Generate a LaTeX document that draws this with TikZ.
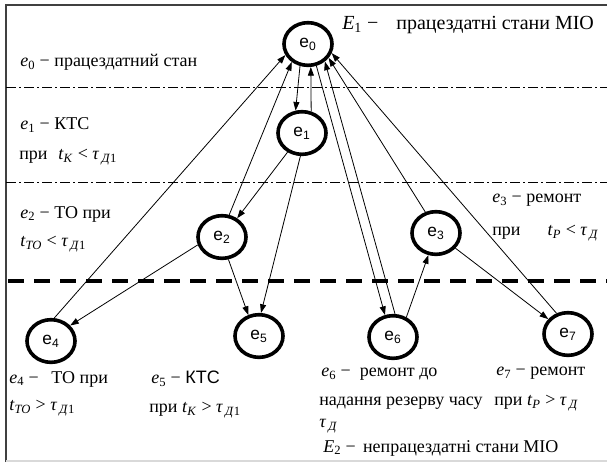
\documentclass[tikz,border=0pt,12pt]{standalone}
\usepackage{fontspec}
\setmainfont{Liberation Serif}
\setsansfont{Liberation Sans}
\usepackage{tikz}
\usetikzlibrary{arrows.meta,shapes.geometric}
\newcommand{\ei}[1]{\textit{e}\textsubscript{#1}}
\newcommand{\ti}[1]{\textit{t}\textsubscript{\textit{#1}}}
\newcommand{\taui}[1]{\textit{τ}\textsubscript{\,\textit{Д}#1}}

\begin{document}
\begin{tikzpicture}[x=0.75pt,y=-0.75pt,
  mstate/.style={draw, ellipse, line width=2.7pt, minimum width=36pt,
    minimum height=32pt, inner sep=0pt, font=\sffamily\fontsize{13}{15}\selectfont},
  link/.style={line width=0.6pt, -{Triangle[length=6.5pt,width=4.5pt]}},
  lbl/.style={anchor=west, inner sep=0pt, font=\fontsize{13.5}{16}\selectfont},
  zone/.style={line width=0.5pt, dash pattern=on 7.5pt off 2.25pt on 1.5pt off 2.25pt},
  fail/.style={line width=3pt, dash pattern=on 12pt off 7.5pt}]
\useasboundingbox (0,0) rectangle (607,462);
% frame
\draw[black!75, line width=0.8pt] (6,462) -- (6,5) -- (607,5);
\draw[black!15, line width=0.8pt] (6,461) -- (607,461);
% zones
\draw[zone] (6,87) -- (607,87);
\draw[zone] (6,182) -- (607,182);
\draw[fail] (8,281) -- (607,281);

% states
\node[mstate] (e0) at (308,44) {e\textsubscript{0}};
\node[mstate] (e1) at (302,133) {e\textsubscript{1}};
\node[mstate] (e2) at (222,237) {e\textsubscript{2}};
\node[mstate] (e3) at (436,233) {e\textsubscript{3}};
\node[mstate] (e4) at (51,341) {e\textsubscript{4}};
\node[mstate] (e5) at (259,336) {e\textsubscript{5}};
\node[mstate] (e6) at (393,337) {e\textsubscript{6}};
\node[mstate] (e7) at (568,334) {e\textsubscript{7}};

% transitions
\draw[link] (e0.250) -- (e1.106);
\draw[link] (e1.67) -- (e0.277);
\draw[link] (e1.233) -- (e2.51);
\draw[link] (e1.266) -- (e5.85);
\draw[link] (e2.72) -- (e0.228);
\draw[link] (e2.198) -- (e4.39);
\draw[link] (e2.286) -- (e5.117);
\draw[link] (e4.82) -- (e0.206);
\draw[link] (e0.291) -- (e6.110);
\draw[link] (e6.85) -- (e0.314);
\draw[link] (e6.56) -- (e3.251);
\draw[link] (e3.117) -- (e0.326);
\draw[link] (e3.322) -- (e7.143);
\draw[link] (e7.119) -- (e0.339);

% texts
\node[lbl, font=\fontsize{15}{17}\selectfont] (tE1) at (342,25) {\textit{E}\textsubscript{1} −\hspace{0.9em}працездатні стани МІО};
\node[lbl] (t0) at (20,62) {\ei{0} − працездатний стан};
\node[lbl] (t1a) at (20,125) {\ei{1} − КТС};
\node[lbl] (t1b) at (19,157) {при\hspace{0.6em}\ti{K} < \taui{1}};
\node[lbl] (t2a) at (20,214) {\ei{2} − ТО при};
\node[lbl] (t2b) at (20,244) {\ti{TO} < \taui{1}};
\node[lbl] (t3a) at (492,200) {\ei{3} − ремонт};
\node[lbl] (t3b) at (492,233) {при\hspace{1.5em}\ti{P} < \taui{}};
\node[lbl] (t4a) at (9,379) {\ei{4} −\hspace{0.7em}ТО при};
\node[lbl] (t4b) at (9,408) {\ti{TO} > \taui{1}};
\node[lbl] (t5a) at (151,379) {\ei{5} − \textsf{КТС}};
\node[lbl] (t5b) at (149,410) {при \ti{K} > \taui{1}};
\node[lbl] (t6a) at (321,374) {\ei{6} −\hspace{0.5em}ремонт до};
\node[lbl] (t6b) at (319,403) {надання резерву часу};
\node[lbl] (t6c) at (319,426) {\taui{}};
\node[lbl] (tE2) at (323,448) {\textit{E}\textsubscript{2} −\hspace{0.4em}непрацездатні стани МІО};
\node[lbl] (t7a) at (496,373) {\ei{7} − ремонт};
\node[lbl] (t7b) at (494,403) {при \ti{P} > \taui{}};
\end{tikzpicture}
\end{document}
